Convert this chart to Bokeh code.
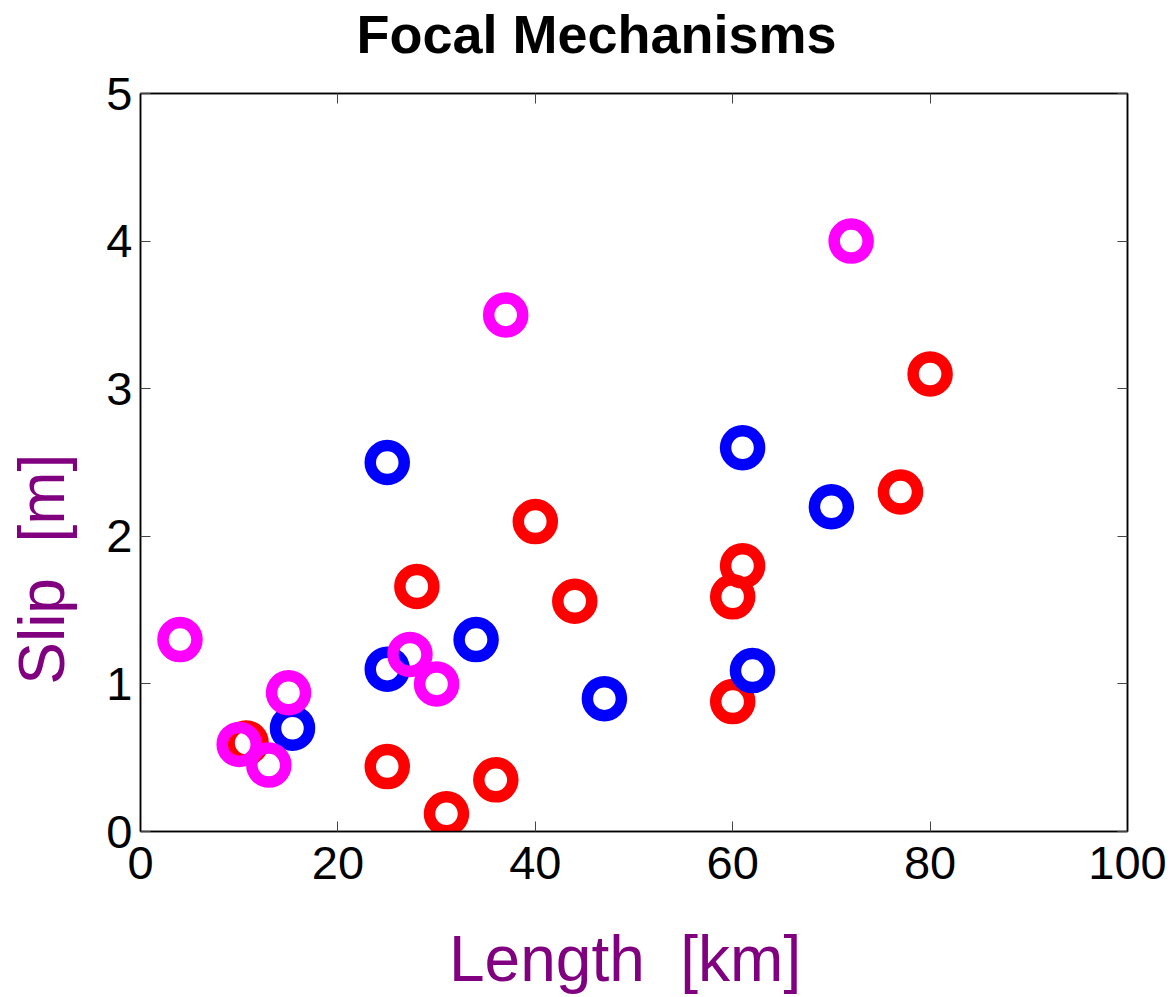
from bokeh.embed import file_html
from bokeh.models import CustomJSTickFormatter, FixedTicker, LinearAxis, Range1d
from bokeh.plotting import figure
from bokeh.resources import INLINE

# Rupture length [km] and slip [m], grouped by focal mechanism
red_length = [10.7, 25, 28, 31, 36, 40, 44, 61, 60, 60, 77, 80]
red_slip = [0.6, 0.44, 1.66, 0.12, 0.35, 2.1, 1.56, 1.8, 1.59, 0.88, 2.3, 3.1]

blue_length = [15.4, 25, 25, 34, 47, 61, 62, 70]
blue_slip = [0.7, 2.5, 1.1, 1.3, 0.9, 2.6, 1.09, 2.2]

magenta_length = [4, 10, 13, 15, 27.3, 30, 37, 72]
magenta_slip = [1.3, 0.59, 0.45, 0.94, 1.2, 1.0, 3.5, 4.0]

x_ticks = [0, 20, 40, 60, 80, 100]
y_ticks = [0, 1, 2, 3, 4, 5]

FONT = "Liberation Sans"
LABEL_COLOR = "#800080"
NBSP = "\u00a0"

# label texts; trailing no-break spaces nudge each centred label off-centre
title_text = "Focal Mechanisms" + NBSP * 5
x_label_text = "Length " + NBSP + "[km]" + NBSP
y_label_text = "Slip " + NBSP + "[m]" + NBSP * 12

p = figure(
    width=1174,
    height=997,
    x_range=Range1d(0, 100),
    y_range=Range1d(0, 5),
    output_backend="svg",
    toolbar_location=None,
    min_border_left=140,
    min_border_right=47,
    min_border_top=92,
    min_border_bottom=166,
    x_axis_location=None,
    y_axis_location=None,
)
p.grid.visible = False
p.outline_line_color = "black"
p.outline_line_width = 1.5
p.background_fill_color = "white"
p.border_fill_color = "white"


def tick_axis(ticks, show_labels, standoff):
    axis = LinearAxis(ticker=FixedTicker(ticks=ticks))
    axis.axis_line_color = "black"
    axis.axis_line_width = 1.5
    axis.major_tick_in = 10
    axis.major_tick_out = 0
    axis.major_tick_line_color = "#444444"
    axis.major_tick_line_width = 1
    axis.minor_tick_line_color = None
    axis.major_label_standoff = standoff
    axis.major_label_text_font = FONT
    axis.major_label_text_font_size = "47px"
    axis.major_label_text_color = "black"
    if not show_labels:
        # tick marks only on the box's top and right sides
        axis.formatter = CustomJSTickFormatter(code="return ''")
    return axis


def label_axis(text, standoff, size, color, style="normal"):
    # an axis that carries only a text label
    axis = LinearAxis(ticker=FixedTicker(ticks=[]))
    axis.axis_line_color = None
    axis.major_tick_line_color = None
    axis.minor_tick_line_color = None
    axis.major_tick_in = 0
    axis.major_tick_out = 0
    axis.axis_label = text
    axis.axis_label_standoff = standoff
    axis.axis_label_text_font = FONT
    axis.axis_label_text_font_size = size
    axis.axis_label_text_font_style = style
    axis.axis_label_text_color = color
    return axis


p.add_layout(tick_axis(x_ticks, True, 15), "below")
p.add_layout(tick_axis(y_ticks, True, 8), "left")
p.add_layout(tick_axis(x_ticks, False, 0), "above")
p.add_layout(tick_axis(y_ticks, False, 0), "right")

p.add_layout(label_axis(x_label_text, 41, "64px", LABEL_COLOR), "below")
p.add_layout(label_axis(y_label_text, 26, "64px", LABEL_COLOR), "left")
p.add_layout(label_axis(title_text, 30, "54px", "black", "bold"), "above")

# Hollow rings, one colour per mechanism
ring = dict(marker="circle", size=34, line_width=11.5, fill_color=None)
p.scatter(red_length, red_slip, line_color="#FF0000", **ring)
p.scatter(blue_length, blue_slip, line_color="#0000FF", **ring)
p.scatter(magenta_length, magenta_slip, line_color="#FF00FF", **ring)

open("out.html", "w").write(file_html(p, INLINE))
